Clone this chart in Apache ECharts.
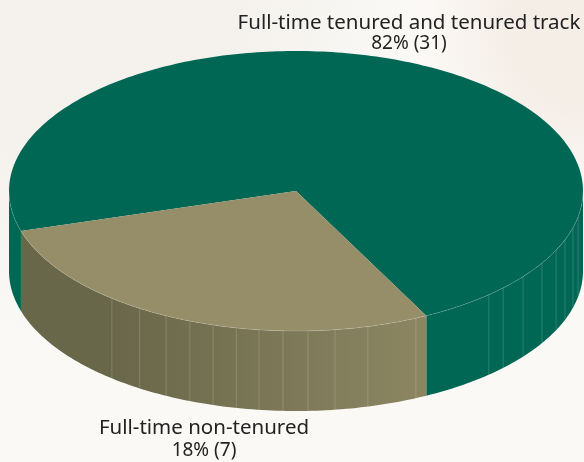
<!DOCTYPE html>
<html><head><meta charset="utf-8">
<style>html,body{margin:0;padding:0;background:#fbf9f6}#c{width:584px;height:462px}</style>
<script src="https://cdn.jsdelivr.net/npm/echarts@6/dist/echarts.min.js"></script>
</head><body><div id="c"></div>
<script>
// Values printed on the chart
const categories = ['Full-time tenured and tenured track', 'Full-time non-tenured'];
const percents = [82, 18];
const counts = [31, 7];
const sweepDegrees = [259.6, 100.4];
// Facet seams on the slice walls (degrees clockwise from 3 o'clock)
const greenSeams = [10.6, 15.2, 20.4, 25, 31, 37.7, 43.8, 47.8];
const tanSeams = [65.3, 75.5, 82.2, 87.6, 92.6, 97.4, 102, 106.8, 111.7, 116.9, 123, 129.9];

const seams = [greenSeams, tanSeams];
const firstAngle = 163.4;
const topColors = ['#006755', '#958e69'];
const cx = 296, cy = 191, rx = 287, ry = 140, depth = 80;
const rad = d => d * Math.PI / 180;
const px = d => cx + rx * Math.cos(rad(d));
const py = d => cy + ry * Math.sin(rad(d));

function arc(a, b) { const p = []; const n = Math.max(2, Math.ceil(Math.abs(b - a))); for (let i = 0; i <= n; i++) { const d = a + (b - a) * i / n; p.push([px(d), py(d)]); } return p; }
const tanWall = {type: 'linear', x: 21, y: 0, x2: 426, y2: 0, global: true, colorStops: [
  {offset: 0, color: '#69674a'}, {offset: 0.22, color: '#69674a'}, {offset: 1, color: '#8c8662'}]};
const seamLine = {stroke: 'rgba(255,255,255,0.24)', lineWidth: 0.7, fill: 'none'};

function renderSlice(params, api) {
  const i = api.value(0);
  let start = firstAngle;
  for (let k = 0; k < i; k++) start += sweepDegrees[k];
  const end = start + sweepDegrees[i];
  const children = [];
  // visible wall spans: parts of the arc on the front half (0..180 deg)
  const spans = [];
  for (const base of [0, 360]) {
    const a = Math.max(start, base), b = Math.min(end, base + 180);
    if (a < b) spans.push([a, b]);
  }
  for (const [a, b] of spans) {
    const rim = arc(a, b);
    const low = rim.slice().reverse().map(p => [p[0], p[1] + depth]);
    children.push({type: 'polygon', shape: {points: rim.concat(low)}, style: {fill: i === 1 ? tanWall : topColors[0]}});
  }
  for (const s of seams[i]) {
    children.push({type: 'line', shape: {x1: px(s), y1: py(s), x2: px(s), y2: py(s) + depth}, style: seamLine});
  }
  const top = [[cx, cy]].concat(arc(start, end));
  children.push({type: 'polygon', shape: {points: top}, style: {fill: topColors[i]}});
  for (const [a, b] of spans) {
    children.push({type: 'polyline', shape: {points: arc(a, b)}, style: {stroke: 'rgba(255,255,255,0.26)', lineWidth: 0.6, fill: 'none'}});
  }
  return {type: 'group', children};
}

const font = '"Noto Sans", sans-serif';
function label(name, value, x, y1, y2, s2) {
  return [
    {type: 'text', x, y: y1, style: {text: name, font: '20.5px ' + font, fill: '#222222', textAlign: 'center', textVerticalAlign: 'middle'}},
    {type: 'text', x, y: y2, style: {text: value, font: s2 + 'px ' + font, fill: '#222222', textAlign: 'center', textVerticalAlign: 'middle'}}
  ];
}
const labelText = i => percents[i] + '% (' + counts[i] + ')';
function blob(x, y, r, color) {
  const clear = color.replace(/[\d.]+\)$/, '0)');
  return {type: 'circle', silent: true, z: -10, shape: {cx: x, cy: y, r},
    style: {fill: {type: 'radial', x: 0.5, y: 0.5, r: 0.5, colorStops: [{offset: 0, color}, {offset: 0.45, color}, {offset: 1, color: clear}]}}};
}

const chart = echarts.init(document.getElementById('c'));
chart.setOption({
  animation: false,
  backgroundColor: '#fbf9f6',
  graphic: [
    blob(90, 20, 330, 'rgba(236,233,226,0.45)'),
    blob(590, 30, 170, 'rgba(240,228,218,0.55)')
  ].concat(label(categories[0], labelText(0), 409, 23, 44, 19), label(categories[1], labelText(1), 204, 428, 451, 19)),
  series: [{
    type: 'custom',
    coordinateSystem: 'none',
    renderItem: renderSlice,
    data: categories.map((c, i) => ({name: c, value: [i, percents[i], counts[i], sweepDegrees[i]]}))
  }]
});
</script></body></html>
